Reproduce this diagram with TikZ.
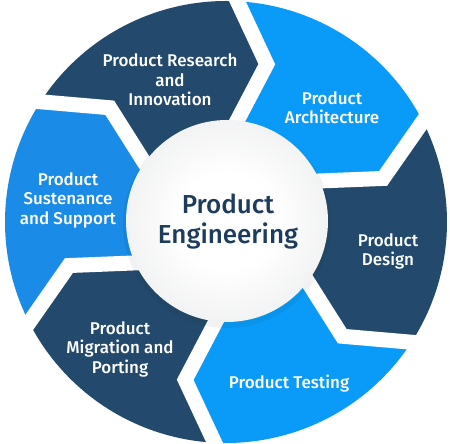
\documentclass[tikz,border=0pt]{standalone}
\usepackage{fontspec}
\setmainfont{Fira Sans}[BoldFont={Fira Sans Medium}]
\definecolor{navy}{HTML}{234A6C}
\definecolor{lblue}{HTML}{0A9BF8}
\definecolor{sblue}{HTML}{1A8BE6}
\definecolor{ctext}{HTML}{1D3C5C}
\definecolor{cmid}{HTML}{EDEEEF}
\definecolor{cedge}{HTML}{D3D6D9}
\pgfdeclareradialshading{ballshade}{\pgfpoint{0bp}{0bp}}{%
  color(0bp)=(white); color(12bp)=(white!98!cmid); color(30bp)=(cmid); color(50bp)=(cedge)}
\tikzset{
  seglabel/.style={text=white, font=\bfseries\fontsize{17}{19.5}\selectfont, align=center},
  gapline/.style={white, line width=15pt, line join=miter, miter limit=20},
}
\begin{document}
\begin{tikzpicture}[x=1pt,y=1pt]
\useasboundingbox (0,0) rectangle (450,444);
\begin{scope}[shift={(226,222)}]
  \foreach \k/\col in {0/lblue,1/navy,2/lblue,3/navy,4/sblue,5/navy}{
    \pgfmathsetmacro\a{87-60*\k}
    \pgfmathsetmacro\b{27-60*\k}
    \pgfmathsetmacro\ta{75.5-60*\k}
    \pgfmathsetmacro\tb{15.5-60*\k}
    \pgfmathsetmacro\ia{84-60*\k}
    \pgfmathsetmacro\ib{24-60*\k}
    \fill[\col] (0,0) -- (\ia:101) -- (\ta:163) -- (\a:221)
      arc[start angle=\a, end angle=\b, radius=221]
      -- (\tb:163) -- (\ib:101) -- cycle;
  }
  \foreach \k in {0,...,5}{
    \pgfmathsetmacro\oa{88.6-60*\k}
    \pgfmathsetmacro\ta{75.5-60*\k}
    \pgfmathsetmacro\ia{89.1-60*\k}
    \draw[gapline] (\oa:233) -- (\ta:163) -- (\ia:82.6);
  }
  \fill[black, opacity=0.05] (1,-2) circle[radius=104];
  \shade[shading=ballshade] (1,1) circle[radius=101];
\end{scope}
\node[seglabel] (research) at (170,364) {Product Research\\and\\Innovation};
\node[seglabel] (arch) at (332,336.5) {Product\\Architecture};
\node[seglabel] (sust) at (68,244) {Product\\Sustenance\\and Support};
\node[seglabel] (design) at (388,192.5) {Product\\Design};
\node[seglabel] (migr) at (120,95) {Product\\Migration and\\Porting};
\node[seglabel] (test) at (289,60) {Product Testing};
\node[text=ctext, font=\bfseries\fontsize{26}{30}\selectfont, align=center] (center) at (228,222) {Product\\Engineering};
\end{tikzpicture}
\end{document}
